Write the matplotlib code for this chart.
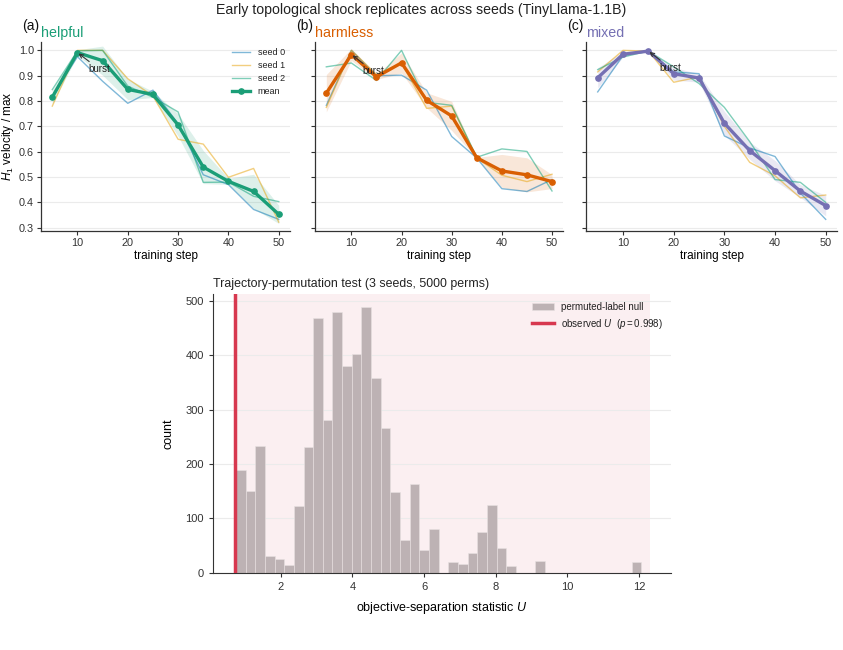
import numpy as np
import matplotlib
matplotlib.use("Agg")
import matplotlib.pyplot as plt

plt.rcParams['font.family'] = ['Liberation Sans', 'DejaVu Sans']
plt.rcParams['mathtext.fontset'] = 'custom'
plt.rcParams['mathtext.rm'] = 'Liberation Sans'
plt.rcParams['mathtext.it'] = 'Liberation Sans:italic'
plt.rcParams['axes.edgecolor'] = '#333333'
plt.rcParams['xtick.color'] = '#333333'
plt.rcParams['ytick.color'] = '#333333'
plt.rcParams['text.color'] = '#222222'

# ---------------- data ----------------
steps = [5, 10, 15, 20, 25, 30, 35, 40, 45, 50]

helpful_seed0 = [0.820, 0.975, 0.878, 0.791, 0.843, 0.710, 0.509, 0.470, 0.372, 0.333]
helpful_seed1 = [0.780, 1.000, 1.000, 0.888, 0.820, 0.649, 0.630, 0.499, 0.534, 0.322]
helpful_seed2 = [0.845, 0.998, 1.000, 0.859, 0.815, 0.757, 0.479, 0.480, 0.424, 0.403]

harmless_seed0 = [0.783, 1.000, 0.900, 0.902, 0.843, 0.660, 0.575, 0.454, 0.443, 0.490]
harmless_seed1 = [0.775, 1.000, 0.905, 0.950, 0.771, 0.780, 0.575, 0.507, 0.482, 0.511]
harmless_seed2 = [0.935, 0.950, 0.881, 1.000, 0.795, 0.783, 0.578, 0.611, 0.601, 0.445]

mixed_seed0 = [0.836, 0.980, 0.997, 0.915, 0.908, 0.662, 0.615, 0.581, 0.437, 0.333]
mixed_seed1 = [0.915, 1.000, 0.997, 0.874, 0.895, 0.700, 0.558, 0.505, 0.418, 0.429]
mixed_seed2 = [0.924, 0.974, 0.997, 0.935, 0.869, 0.775, 0.640, 0.490, 0.479, 0.400]

burst_step = {'helpful': 10, 'harmless': 10, 'mixed': 15}

null_counts = [189, 150, 233, 32, 26, 15, 122, 232, 468, 281, 479, 380, 402, 488,
               357, 266, 149, 60, 164, 43, 80, 0, 20, 17, 36, 76, 125, 46, 12,
               0, 0, 22, 0, 0, 0, 0, 0, 0, 0, 0, 0, 20]
null_lo, null_hi = 0.75, 12.06
observed_U = 0.735
p_value = 0.998
span_hi = 12.29

# ---------------- styling ----------------
cond_colors = {'helpful': '#1b9e77', 'harmless': '#d95f02', 'mixed': '#7570b3'}
seed_colors = ['#0072B2', '#E69F00', '#009E73']

fig = plt.figure(figsize=(8.43, 6.5), dpi=100)

top_pos = [(0.0486, 0.645, 0.2955, 0.290),
           (0.3737, 0.645, 0.2945, 0.290),
           (0.6955, 0.645, 0.2975, 0.290)]

conds = [('helpful', (helpful_seed0, helpful_seed1, helpful_seed2), '(a)'),
         ('harmless', (harmless_seed0, harmless_seed1, harmless_seed2), '(b)'),
         ('mixed', (mixed_seed0, mixed_seed1, mixed_seed2), '(c)')]

yt = [0.3, 0.4, 0.5, 0.6, 0.7, 0.8, 0.9, 1.0]
for i, (name, seeds, lab) in enumerate(conds):
    ax = fig.add_axes(top_pos[i])
    col = cond_colors[name]
    arr = np.array(seeds)
    mean = arr.mean(axis=0)
    std = arr.std(axis=0)
    for k, s in enumerate(seeds):
        ax.plot(steps, s, color=seed_colors[k], alpha=0.5, lw=1.0, label=f'seed {k}')
    ax.fill_between(steps, mean - std, mean + std, color=col, alpha=0.15, lw=0)
    ax.plot(steps, mean, color=col, lw=2.4, marker='o', ms=3.8, label='mean')
    bs = burst_step[name]
    bi = steps.index(bs)
    ax.annotate('burst', xy=(bs, mean[bi]), xytext=(8, -12), textcoords='offset points',
                fontsize=7, ha='left', va='center', color='#222222',
                arrowprops=dict(arrowstyle='->', color='#333333', lw=0.8, shrinkA=0, shrinkB=1))
    ax.set_xlim(2.75, 52.25)
    ax.set_ylim(0.288, 1.032)
    ax.set_xticks([10, 20, 30, 40, 50])
    ax.set_yticks(yt)
    ax.yaxis.grid(True, color='#ebebeb', lw=0.8)
    ax.set_axisbelow(True)
    for sp in ['top', 'right']:
        ax.spines[sp].set_visible(False)
    ax.spines['left'].set_linewidth(0.9)
    ax.spines['bottom'].set_linewidth(0.9)
    ax.tick_params(labelsize=7.8, length=3, width=0.8, pad=2)
    ax.set_xlabel('training step', fontsize=8.5, labelpad=2)
    if i == 0:
        ax.set_ylabel('$H_1$ velocity / max', fontsize=8.5, labelpad=2)
        ax.set_yticklabels([f'{v:.1f}' for v in yt])
        handles, labels = ax.get_legend_handles_labels()
        ax.legend(handles, labels, loc='upper right', frameon=False, fontsize=6.5,
                  handlelength=2.0, borderaxespad=0.2, labelspacing=0.45,
                  bbox_to_anchor=(1.0, 1.0))
    else:
        ax.set_yticklabels([])
    ax.set_title(name, loc='left', color=col, fontsize=10.3, pad=4)
    ax.text(-0.077, 1.085, lab, transform=ax.transAxes, fontsize=10, ha='left', va='center',
            color='#111111')

fig.text(0.5, 0.984, 'Early topological shock replicates across seeds (TinyLlama-1.1B)',
         ha='center', va='center', fontsize=10.2)

# ---------------- histogram ----------------
axh = fig.add_axes((0.2523, 0.1185, 0.5437, 0.4292))
edges = np.linspace(null_lo, null_hi, len(null_counts) + 1)
axh.axvspan(observed_U, span_hi, color='#d7384f', alpha=0.08, lw=0, zorder=0)
bars = axh.bar(edges[:-1], null_counts, width=np.diff(edges), align='edge', color='#bdb2b4',
               edgecolor='#e9e1e2', linewidth=0.4, label='permuted-label null', zorder=2)
vl = axh.axvline(observed_U, color='#d7384f', lw=2.5, zorder=3,
                 label=f'observed $U$  ($p = {p_value:.3f}$)')
axh.set_xlim(0.10, 12.89)
axh.set_ylim(0, 512)
axh.set_xticks([2, 4, 6, 8, 10, 12])
axh.set_yticks([0, 100, 200, 300, 400, 500])
axh.yaxis.grid(True, color='#ebebeb', lw=0.8)
axh.set_axisbelow(True)
for sp in ['top', 'right']:
    axh.spines[sp].set_visible(False)
axh.tick_params(labelsize=8, length=3, width=0.8)
axh.set_xlabel('objective-separation statistic $U$', fontsize=9, labelpad=6)
axh.set_ylabel('count', fontsize=9, labelpad=8)
axh.set_title('Trajectory-permutation test (3 seeds, 5000 perms)', loc='left', fontsize=8.9, pad=5)
axh.legend([bars, vl], ['permuted-label null', f'observed $U$  ($p = {p_value:.3f}$)'],
           loc='upper right', frameon=False, fontsize=7, handlelength=2.2,
           bbox_to_anchor=(1.0, 1.0), borderaxespad=0.4)

fig.savefig('out.png', dpi=100)
